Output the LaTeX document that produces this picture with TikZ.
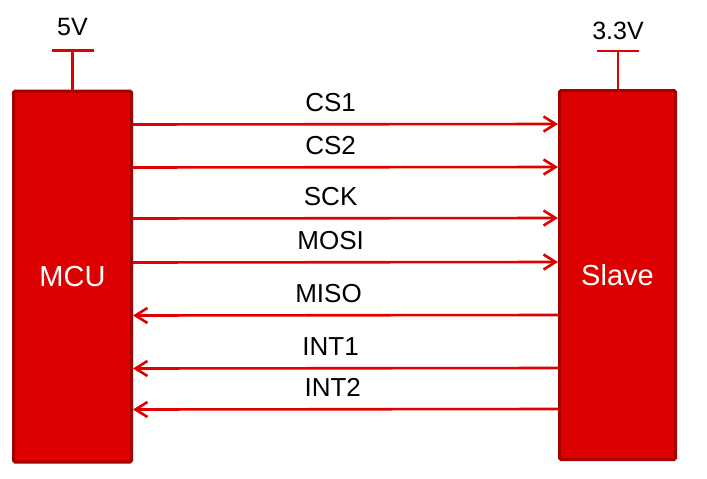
\documentclass[tikz,border=0pt]{standalone}
\usepackage{fontspec}
\setmainfont{Liberation Sans}
\usepackage{xcolor}
\usetikzlibrary{arrows.meta,positioning,calc}

\definecolor{chipred}{HTML}{DD0000}
\definecolor{chipedge}{HTML}{A50000}
\definecolor{wirered}{HTML}{E00000}

\begin{document}
\begin{tikzpicture}[
  x=1pt, y=-1pt,
  chip/.style={rectangle, draw=chipedge, fill=chipred, line width=3pt, inner sep=0pt,
               rounded corners=1.5pt, text=white, font=\fontsize{29}{33}\selectfont},
  sig/.style={wirered, line width=2.6pt, -{Straight Barb[length=12pt,width=15pt,line width=2.6pt]}},
  lbl/.style={above=11pt, inner sep=0pt, text=black, font=\fontsize{26}{30}\selectfont},
  rail/.style={wirered, line width=2.8pt},
  vlbl/.style={inner sep=0pt, anchor=base, text=black, font=\fontsize{25}{29}\selectfont},
]
\useasboundingbox (0,0) rectangle (707,479);

\node[chip, minimum width=118pt, minimum height=371pt] (mcu) at (72.5,276.5) {MCU};
\node[chip, minimum width=116pt, minimum height=369pt] (slave) at (617.5,275) {Slave};

% Supply rails
\coordinate (vmcu) at ([yshift=39pt]mcu.north);
\coordinate (vslave) at ([yshift=38pt]slave.north -| 618,0);
\draw[rail] (mcu.north) -- (vmcu);
\draw[rail] ([xshift=-21pt]vmcu) -- ([xshift=21pt]vmcu);
\draw[rail] (slave.north -| vslave) -- (vslave);
\draw[rail] ([xshift=-21pt]vslave) -- ([xshift=21pt]vslave);
\node[vlbl] (l5v) at ([yshift=15pt]vmcu) {5V};
\node[vlbl] (l33v) at ([yshift=12pt]vslave) {3.3V};

% MCU -> Slave
\draw[sig] ([yshift=-35pt]mcu.north east) -- node[lbl, pos=0.465]{CS1} ([yshift=-35pt]slave.north west);
\draw[sig] ([yshift=-78pt]mcu.north east) -- node[lbl, pos=0.465]{CS2} ([yshift=-78pt]slave.north west);
\draw[sig] ([yshift=-129pt]mcu.north east) -- node[lbl, pos=0.465]{SCK} ([yshift=-129pt]slave.north west);
\draw[sig] ([yshift=-173pt]mcu.north east) -- node[lbl, pos=0.465]{MOSI} ([yshift=-173pt]slave.north west);

% Slave -> MCU
\draw[sig] ([yshift=-226pt]slave.north west) -- node[lbl, pos=0.54]{MISO} ([yshift=-226pt]mcu.north east);
\draw[sig] ([yshift=-279pt]slave.north west) -- node[lbl, pos=0.535]{INT1} ([yshift=-279pt]mcu.north east);
\draw[sig] ([yshift=-320pt]slave.north west) -- node[lbl, pos=0.53]{INT2} ([yshift=-320pt]mcu.north east);
\end{tikzpicture}
\end{document}
